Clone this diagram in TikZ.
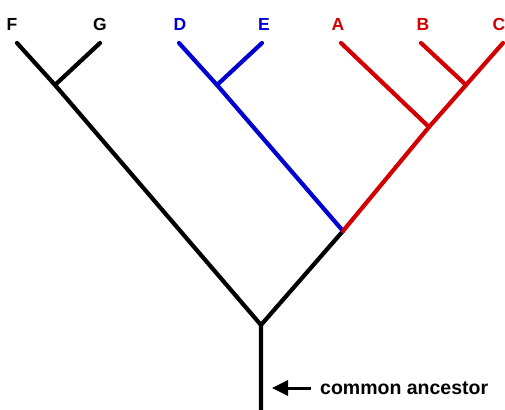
\documentclass[tikz,border=0pt]{standalone}
\usepackage{fontspec}
\setmainfont{Liberation Sans}
\usetikzlibrary{arrows.meta}
\definecolor{tblue}{RGB}{0,0,210}
\definecolor{tred}{RGB}{210,0,0}
\tikzset{
  branch/.style={line width=4.2pt, line cap=round, line join=round},
  taxon/.style={font=\fontsize{17.5}{17.5}\selectfont\bfseries, inner sep=0pt, anchor=center},
  ancestortext/.style={font=\fontsize{19.5}{20}\selectfont\bfseries, inner sep=0pt, anchor=west},
  pointer/.style={line width=3pt, -{Triangle[length=16pt,width=15pt]}}
}
\begin{document}
\begin{tikzpicture}[x=1pt,y=-1pt]
\useasboundingbox (0,0) rectangle (505,409);
% tips
\coordinate (tF) at (17,43);
\coordinate (tG) at (100,43);
\coordinate (tD) at (179,43);
\coordinate (tE) at (262,43);
\coordinate (tA) at (341,43);
\coordinate (tB) at (421,43);
\coordinate (tC) at (503,43);
% junctions
\coordinate (jFG) at (55,85);
\coordinate (jDE) at (217,85);
\coordinate (jBC) at (466,85);
\coordinate (jABC) at (429,127);
\coordinate (jDA) at (343,231);
\coordinate (root) at (261,325);
\coordinate (base) at (261,412);
% labels
\node[taxon] (F) at (12,24) {F};
\node[taxon] (G) at (100,24) {G};
\node[taxon, text=tblue] (D) at (180,24) {D};
\node[taxon, text=tblue] (E) at (264,24) {E};
\node[taxon, text=tred] (A) at (338,24) {A};
\node[taxon, text=tred] (B) at (423,24) {B};
\node[taxon, text=tred] (C) at (499,24) {C};
% black branches
\draw[branch] (tF) -- (jFG) -- (root);
\draw[branch] (tG) -- (jFG);
\draw[branch] (jDA) -- (root) -- (base);
% blue
\draw[branch, tblue] (tD) -- (jDE) -- (jDA);
\draw[branch, tblue] (tE) -- (jDE);
% red
\draw[branch, tred] (tC) -- (jBC) -- (jABC) -- (jDA);
\draw[branch, tred] (tB) -- (jBC);
\draw[branch, tred] (tA) -- (jABC);
% annotation
\node[ancestortext] (lbl) at (320,388) {common ancestor};
\coordinate (tip) at (272,388);
\draw[pointer] (311,388) -- (tip);
\end{tikzpicture}
\end{document}
